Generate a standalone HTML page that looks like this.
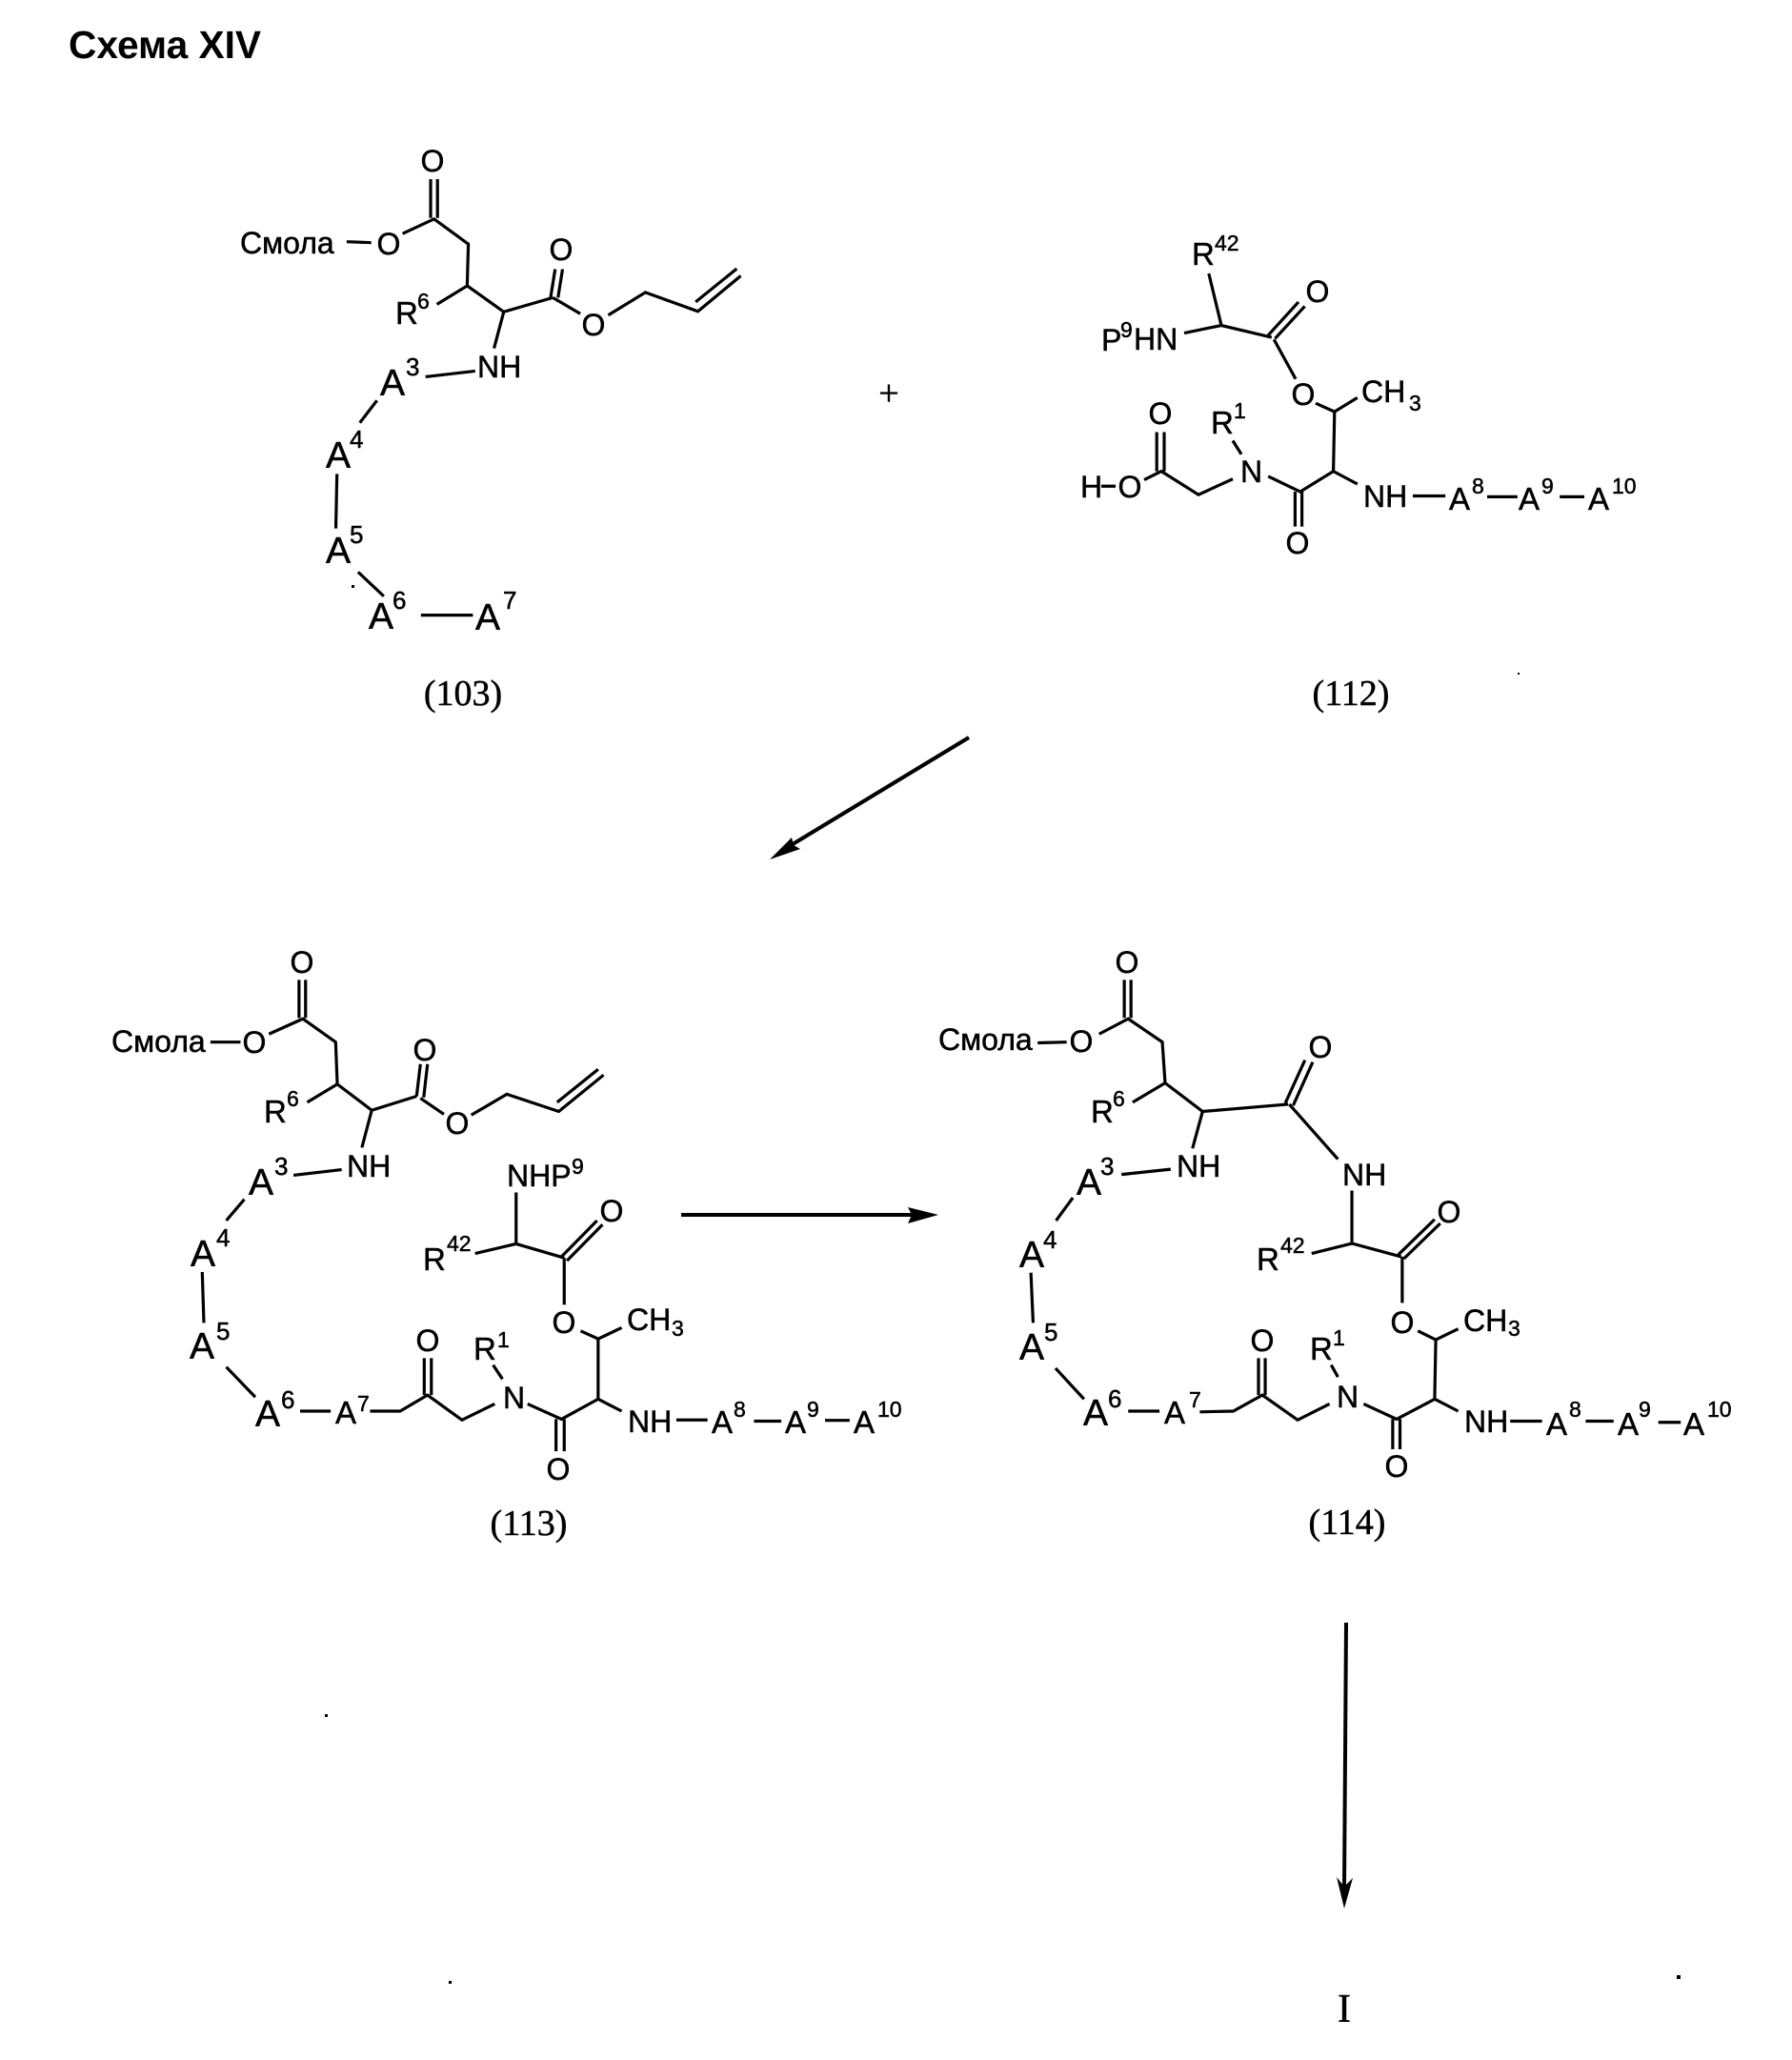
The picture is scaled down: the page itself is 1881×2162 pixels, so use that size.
<!DOCTYPE html>
<html lang="ru"><head><meta charset="utf-8"><title>Схема XIV</title>
<style>
html,body{margin:0;padding:0;background:#fff}
svg{display:block}
text{font-family:"Liberation Sans",sans-serif;fill:#000;font-size:32px;stroke:#000;stroke-width:.5px}
.m{text-anchor:middle}
.a{font-size:39px}
.b{font-size:33px}
.c{font-size:32px}
.g{font-size:33px}
.s{font-size:23px}
.u{font-size:26px}
.r{font-family:"Liberation Serif",serif;font-size:38px;text-anchor:middle}
.t{font-weight:bold;font-size:41px;stroke:none}
path,line{fill:none;stroke:#000;stroke-width:3.2;vector-effect:non-scaling-stroke;stroke-linejoin:miter}
.f{fill:#000;stroke:none}
</style></head><body>
<svg width="1881" height="2162" viewBox="0 0 1881 2162" xmlns="http://www.w3.org/2000/svg">
<rect width="1881" height="2162" fill="#fff"/>
<text class="t" x="72" y="61" textLength="202" lengthAdjust="spacingAndGlyphs">Схема XIV</text>

<!-- 103 -->
<g transform="scale(.5995,.4974)">
<path d="M754 378V460M766 378V460M705 493L760 462L820 515L818 603L765 642M818 603L882 658L968 628M964 628L972 568M977 628L985 568M968 628L1016 662M1065 665L1130 617L1222 657L1297 582M1218 637L1290 567M882 658L865 735M745 795L832 783M660 845L630 892M590 1000L588 1115M627 1207L672 1258M737 1298L828 1298M607 510L650 512"/>
</g>
<text x="252" y="266" class="c">Смола</text>
<text x="454" y="180" class="m">O</text>
<text x="408" y="267" class="m">O</text>
<text x="589" y="273" class="m">O</text>
<text x="623" y="352" class="m">O</text>
<text x="415" y="340" class="g">R</text><text x="438" y="324" class="s">6</text>
<text x="501" y="396">NH</text>
<text x="399" y="415" class="a">A</text><text x="426" y="394" class="u">3</text>
<text x="342" y="491" class="a">A</text><text x="367" y="470" class="u">4</text>
<text x="342" y="591" class="a">A</text><text x="367" y="570" class="u">5</text>
<text x="387" y="660" class="a">A</text><text x="412" y="639" class="u">6</text>
<text x="499" y="661" class="a">A</text><text x="528" y="639" class="u">7</text>
<text x="486" y="740" class="r">(103)</text>
<text x="933" y="425" style="font-family:'Liberation Serif',serif;font-size:38px;text-anchor:middle">+</text>

<!-- 112 -->
<g transform="translate(940,200) scale(.6,.4464)">
<path d="M548 195L570 317M505 335L570 317L658 345M652 340L705 262M664 348L716 272M662 350L700 443M735 500L768 520L808 487M768 520L766 660L708 708L652 672M766 660L808 690M699 708V790M711 708V790M590 588L605 620M590 678L530 715L465 660L435 680M457 660V568M470 660V568M360 695L385 695M905 718L962 718M1035 720L1088 720M1162 720L1205 720"/>
</g>
<text x="1251" y="278" class="g">R</text><text x="1275" y="263" class="s">42</text>
<text x="1156" y="368">P</text><text x="1176" y="354" class="s">9</text><text x="1190" y="367">HN</text>
<text x="1383" y="317" class="m">O</text>
<text x="1368" y="425" class="m">O</text>
<text x="1429" y="422" style="font-size:32px">CH</text><text x="1479" y="431" class="s">3</text>
<text x="1302" y="506">N</text>
<text x="1271" y="455" class="g">R</text><text x="1295" y="439" class="s">1</text>
<text x="1218" y="445" class="m">O</text>
<text x="1186" y="522" class="m">O</text>
<text x="1134" y="522">H</text>
<text x="1431" y="532">NH</text>
<text x="1521" y="535" class="b">A</text><text x="1545" y="518" class="s">8</text>
<text x="1594" y="535" class="b">A</text><text x="1618" y="518" class="s">9</text>
<text x="1667" y="535" class="b">A</text><text x="1692" y="518" class="s">10</text>
<text x="1362" y="581" class="m">O</text>
<text x="1418" y="740" class="r">(112)</text>

<!-- diagonal arrow -->
<line x1="1017" y1="774" x2="832" y2="886" style="stroke-width:4"/>
<path class="f" d="M808 902L831 879L833 887L840 891Z"/>

<!-- 113 -->
<g transform="translate(90,980) scale(.574,.421)">
<path d="M390 115V210M402 115V210M335 250L397 212L457 270L460 375L405 420M460 375L523 440L605 405M605 405L612 325M618 408L625 325M612 410L655 450M705 452L770 400L865 443L947 352M862 420L937 338M523 440L505 533M380 602L468 588M290 662L257 715M213 843L216 970M257 1080L310 1155M392 1190L448 1190M520 1190L575 1190L625 1150L688 1212L748 1172M619 1150V1058M632 1150V1058M745 1075L762 1110M808 1172L870 1210L937 1160L937 1010L905 990M937 1010L980 982M937 1160L980 1190M860 1210V1290M875 1210V1290M1080 1212L1137 1212M1222 1215L1272 1215M1352 1213L1397 1213M228 270L283 270M787 645V773M712 797L787 773L875 808M870 805L935 715M880 815L945 725M875 808V925"/>
</g>
<text x="117" y="1104" class="c">Смола</text>
<text x="317" y="1021" class="m">O</text>
<text x="267" y="1105" class="m">O</text>
<text x="446" y="1113" class="m">O</text>
<text x="480" y="1190" class="m">O</text>
<text x="277" y="1178" class="g">R</text><text x="301" y="1161" class="s">6</text>
<text x="364" y="1235">NH</text>
<text x="261" y="1254" class="a">A</text><text x="288" y="1233" class="u">3</text>
<text x="200" y="1329" class="a">A</text><text x="227" y="1308" class="u">4</text>
<text x="199" y="1426" class="a">A</text><text x="227" y="1406" class="u">5</text>
<text x="268" y="1497" class="a">A</text><text x="295" y="1478" class="u">6</text>
<text x="352" y="1494" class="b">A</text><text x="375" y="1481" class="s">7</text>
<text x="449" y="1418" class="m">O</text>
<text x="497" y="1427" class="g">R</text><text x="522" y="1414" class="s">1</text>
<text x="528" y="1478">N</text>
<text x="592" y="1399" class="m">O</text>
<text x="658" y="1396" style="font-size:32px">CH</text><text x="705" y="1402" class="s">3</text>
<text x="532" y="1245" style="font-size:32px">NHP</text><text x="600" y="1232" class="s">9</text>
<text x="642" y="1282" class="m">O</text>
<text x="444" y="1333" class="g">R</text><text x="469" y="1313" class="s">42</text>
<text x="659" y="1503">NH</text>
<text x="747" y="1504" class="b">A</text><text x="770" y="1487" class="s">8</text>
<text x="824" y="1504" class="b">A</text><text x="847" y="1487" class="s">9</text>
<text x="896" y="1504" class="b">A</text><text x="921" y="1487" class="s">10</text>
<text x="586" y="1553" class="m">O</text>
<text x="555" y="1611" class="r">(113)</text>

<!-- horizontal arrow -->
<line x1="715" y1="1275" x2="958" y2="1275" style="stroke-width:4"/>
<path class="f" d="M985 1275L953 1267L957 1275L953 1284Z"/>

<!-- 114 -->
<g transform="translate(960,980) scale(.587,.421)">
<path d="M375 115V210M387 115V210M330 250L382 212L443 270L448 372L390 420M448 372L515 443L668 425M663 422L698 315M677 428L712 320M670 425L757 562M515 443L497 535M370 600L458 587M283 658L253 715M208 845L212 970M252 1083L303 1160M382 1190L438 1190M510 1192L570 1190L622 1150L685 1212L742 1172M615 1150V1058M627 1150V1058M745 1075L757 1105M803 1172L862 1210L930 1160L932 1012L900 990M932 1012L972 985M930 1160L972 1190M855 1210V1285M868 1210V1285M1065 1215L1122 1215M1200 1215L1250 1215M1330 1218L1370 1218M220 272L272 270M782 640V772M710 797L782 772L870 805M865 800L930 712M875 810L940 722M872 805V920"/>
</g>
<text x="985" y="1102" class="c">Смола</text>
<text x="1183" y="1021" class="m">O</text>
<text x="1135" y="1104" class="m">O</text>
<text x="1386" y="1110" class="m">O</text>
<text x="1145" y="1178" class="g">R</text><text x="1168" y="1161" class="s">6</text>
<text x="1235" y="1235">NH</text>
<text x="1409" y="1244">NH</text>
<text x="1130" y="1254" class="a">A</text><text x="1155" y="1233" class="u">3</text>
<text x="1070" y="1330" class="a">A</text><text x="1095" y="1310" class="u">4</text>
<text x="1070" y="1427" class="a">A</text><text x="1096" y="1407" class="u">5</text>
<text x="1137" y="1496" class="a">A</text><text x="1163" y="1477" class="u">6</text>
<text x="1222" y="1494" class="b">A</text><text x="1248" y="1477" class="s">7</text>
<text x="1325" y="1418" class="m">O</text>
<text x="1375" y="1427" class="g">R</text><text x="1399" y="1412" class="s">1</text>
<text x="1403" y="1477">N</text>
<text x="1472" y="1399" class="m">O</text>
<text x="1536" y="1397" style="font-size:32px">CH</text><text x="1583" y="1402" class="s">3</text>
<text x="1521" y="1283" class="m">O</text>
<text x="1319" y="1333" class="g">R</text><text x="1344" y="1315" class="s">42</text>
<text x="1537" y="1503">NH</text>
<text x="1623" y="1506" class="b">A</text><text x="1647" y="1487" class="s">8</text>
<text x="1698" y="1506" class="b">A</text><text x="1720" y="1487" class="s">9</text>
<text x="1767" y="1506" class="b">A</text><text x="1792" y="1487" class="s">10</text>
<text x="1466" y="1550" class="m">O</text>
<text x="1414" y="1610" class="r">(114)</text>

<!-- vertical arrow -->
<line x1="1413" y1="1703" x2="1411" y2="1982" style="stroke-width:4"/>
<path class="f" d="M1411 2003L1403 1970L1411 1980L1420 1971Z"/>
<text x="1411" y="2122" style="font-family:'Liberation Serif',serif;font-size:42px;text-anchor:middle">I</text>

<!-- specks -->
<rect x="341" y="1799" width="3" height="3"/>
<rect x="471" y="2079" width="3" height="3"/>
<rect x="1760" y="2073" width="4" height="4"/>
<rect x="1593" y="706" width="2" height="2"/>
<rect x="369" y="614" width="3" height="3"/>
</svg>
</body></html>
